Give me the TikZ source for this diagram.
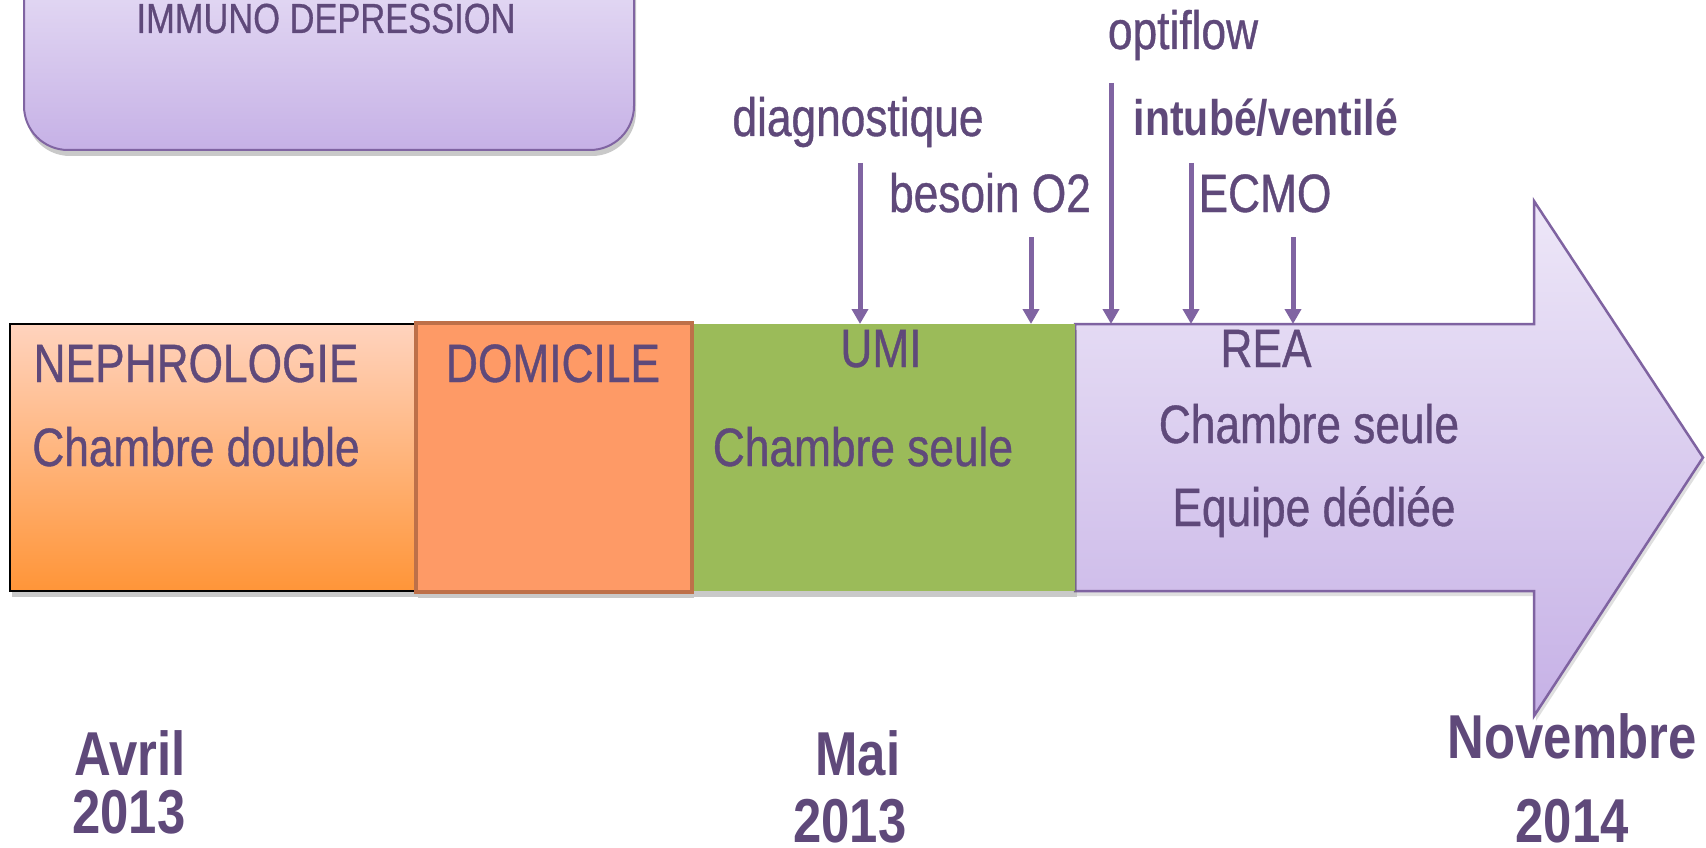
\documentclass[tikz,border=0pt]{standalone}
\usepackage{fontspec}
\setmainfont{Liberation Sans}[FakeStretch=0.82]
\newfontfamily\labfont{Liberation Sans}[FakeStretch=0.82, FakeBold=0.7]
\usetikzlibrary{arrows.meta,shadows}
\definecolor{txt}{HTML}{5F497A}
\definecolor{evt}{HTML}{8064A2}
\definecolor{lavtop}{HTML}{E9E1F6}
\definecolor{lavbot}{HTML}{C6B1E6}
\definecolor{lavline}{HTML}{7F63A1}
\definecolor{peachtop}{HTML}{FFD3BE}
\definecolor{peachbot}{HTML}{FF9538}
\definecolor{domfill}{HTML}{FE9A66}
\definecolor{domline}{HTML}{BE7049}
\definecolor{umigreen}{HTML}{9BBB59}
\tikzset{
  lab/.style={text=txt, font=\labfont\fontsize{54}{60}\selectfont, inner sep=0pt, anchor=base},
  smalllab/.style={text=txt, font=\labfont\fontsize{42}{48}\selectfont, inner sep=0pt, anchor=base},
  boldlab/.style={text=txt, font=\bfseries\fontsize{50}{56}\selectfont, inner sep=0pt, anchor=base},
  datelab/.style={text=txt, font=\bfseries\fontsize{62}{68}\selectfont, inner sep=0pt, anchor=base},
  boxshadow/.style={drop shadow={shadow xshift=2pt, shadow yshift=-6pt, opacity=0.35, fill=black!60}},
  evarrow/.style={draw=evt, line width=5pt, -{Triangle[width=16pt,length=15pt]}},
}
\begin{document}
\begin{tikzpicture}[x=1pt,y=-1pt]
\useasboundingbox (0,0) rectangle (1706,848);
\clip (0,0) rectangle (1706,848);
\fill[white] (0,0) rectangle (1706,848);

% top rounded box
\node (immbox) [boxshadow, draw=evt, line width=2pt, rounded corners=44pt,
  top color=lavtop, bottom color=lavbot, minimum width=610pt, minimum height=200pt,
  inner sep=0pt] at (329,50) {};
\node (imm) [smalllab] at (326,33) {IMMUNO DEPRESSION};

% REA big arrow
\shade[top color=lavtop!80!white, bottom color=lavbot, draw=lavline, line width=2.5pt,
  drop shadow={shadow xshift=2pt, shadow yshift=-5pt, opacity=0.25}]
  (1075,324) -- (1534,324) -- (1534,201) -- (1703,457.5) -- (1534,716)
  -- (1534,591) -- (1075,591) -- cycle;

% UMI box
\node (umi) [boxshadow, fill=umigreen, minimum width=383pt, minimum height=267pt,
  inner sep=0pt] at (883.5,457.5) {};

% NEPHROLOGIE box
\node (neph) [boxshadow, draw=black, line width=2pt, top color=peachtop,
  bottom color=peachbot, minimum width=406pt, minimum height=267pt,
  inner sep=0pt] at (213,457.5) {};

% DOMICILE box
\node (dom) [boxshadow, draw=domline, line width=4pt, fill=domfill,
  minimum width=276pt, minimum height=269pt, inner sep=0pt] at (554,457.5) {};

% labels in boxes
\node (nephT) [lab] at (196,382) {NEPHROLOGIE};
\node (nephC) [lab] at (196,466) {Chambre double};
\node (domT) [lab] at (553,382) {DOMICILE};
\node (umiT) [lab] at (881,367) {UMI};
\node (umiC) [lab] at (863,466) {Chambre seule};
\node (reaT) [lab] at (1266,367) {REA};
\node (reaC) [lab] at (1309,443) {Chambre seule};
\node (reaE) [lab] at (1314,526) {Equipe dédiée};

% event labels
\node (diag) [lab] at (858,136) {diagnostique};
\node (besoin) [lab] at (990,212) {besoin O2};
\node (opti) [lab] at (1183,49) {optiflow};
\node (intub) [boldlab] at (1266,136) {intubé/ventilé};
\node (ecmo) [lab] at (1265,212) {ECMO};

% event arrows
\coordinate (s1) at (860,163);  \coordinate (e1) at (860,324);
\coordinate (s2) at (1031,237); \coordinate (e2) at (1031,324);
\coordinate (s3) at (1111,83);  \coordinate (e3) at (1111,324);
\coordinate (s4) at (1191,163); \coordinate (e4) at (1191,324);
\coordinate (s5) at (1293,237); \coordinate (e5) at (1293,324);
\draw[evarrow] (s1) -- (e1);
\draw[evarrow] (s2) -- (e2);
\draw[evarrow] (s3) -- (e3);
\draw[evarrow] (s4) -- (e4);
\draw[evarrow] (s5) -- (e5);

% dates
\node (avril) [datelab] at (130,775) {Avril};
\node (y1) [datelab] at (129,833) {2013};
\node (mai) [datelab] at (858,775) {Mai};
\node (y2) [datelab] at (850,842) {2013};
\node (nov) [datelab] at (1572,758) {Novembre};
\node (y3) [datelab] at (1572,842) {2014};
\end{tikzpicture}
\end{document}
